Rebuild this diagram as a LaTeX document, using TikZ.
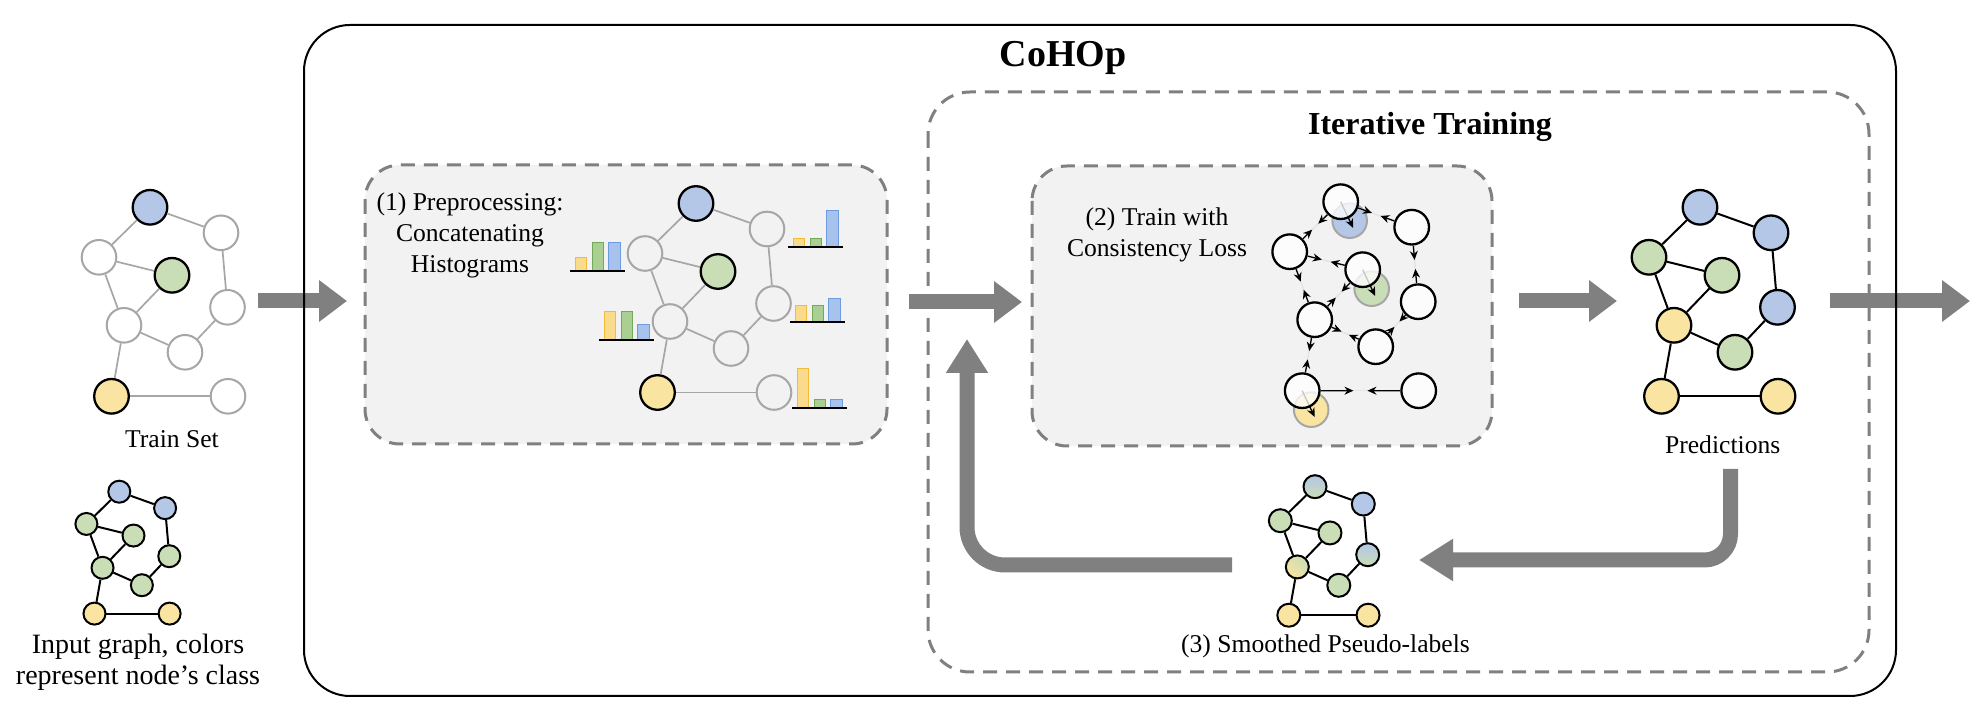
\documentclass[tikz,border=0pt]{standalone}
\usepackage{fontspec}
\setmainfont{Liberation Serif}
\usetikzlibrary{arrows.meta,calc}
\pgfdeclarelayer{back}
\pgfdeclarelayer{mid}
\pgfsetlayers{back,mid,main}

\definecolor{nblue}{HTML}{B4C7E7}
\definecolor{ngreen}{HTML}{C9DDB6}
\definecolor{nyellow}{HTML}{F9E4A1}
\definecolor{edgegray}{HTML}{A6A6A6}
\definecolor{arrowgray}{HTML}{808080}
\definecolor{boxfill}{HTML}{F2F2F2}
\definecolor{barYfill}{HTML}{FADB8C}
\definecolor{barYline}{HTML}{F2BB3C}
\definecolor{barGfill}{HTML}{AACF93}
\definecolor{barGline}{HTML}{73A957}
\definecolor{barBfill}{HTML}{A7C2EC}
\definecolor{barBline}{HTML}{6C9BE0}

\def\gx{{0,71,-51,22,77.5,-26,35,-38.5,78}}
\def\gy{{0,25.5,50,68,100,118,145,189,189}}

\newcommand{\drawgraph}[5]{%
  \begin{scope}[shift={#2},scale=#3]
  \foreach \s [count=\k from 0] in {#5} {
    \pgfmathsetmacro{\px}{\gx[\k]}
    \pgfmathsetmacro{\py}{\gy[\k]}
    \node[gnode,#4,\s] (#1\k) at (\px,\py) {};
  }
  \end{scope}}

\newcommand{\graphedges}[2]{%
  \foreach \u/\v in {0/1,0/2,2/3,2/5,3/5,1/4,4/6,5/6,5/7,7/8}
    \draw[#2] (#1\u) -- (#1\v);}

\newcommand{\hist}[5]{%
  \draw[barY] (#1+5,#2) rectangle ++(11.5,-#3);
  \draw[barG] (#1+22,#2) rectangle ++(11.5,-#4);
  \draw[barB] (#1+38.5,#2) rectangle ++(11.5,-#5);
  \draw[histline] (#1,#2) -- ++(55,0);}

\begin{document}
\begin{tikzpicture}[
x=0.5pt, y=-0.5pt,
txt/.style={font=\fontsize{12.8}{15.5}\selectfont},
gnode/.style={circle,draw=black,line width=1.15pt,inner sep=0pt,minimum size=17.3pt},
nw/.style={draw=edgegray,line width=1pt},
nb/.style={fill=nblue},
ng/.style={fill=ngreen},
ny/.style={fill=nyellow},
nt/.style={fill=white,fill opacity=0.78},
nbg/.style={top color=nblue,bottom color=ngreen},
nyg/.style={top color=ngreen,bottom color=nyellow,shading angle=-45},
shadownode/.style={circle,draw=gray!70,line width=1pt,inner sep=0pt,minimum size=17.3pt},
grayedge/.style={draw=edgegray,line width=0.85pt},
blackedge/.style={line width=1pt},
faintedge/.style={draw=gray!20,line width=0.8pt},
tarrow/.style={-{Stealth[length=4.5pt,width=4pt]},line width=0.65pt},
bigarrow/.style={draw=arrowgray,line width=7.5pt,-{Triangle[length=14pt,width=20pt]}},
looparrow/.style={bigarrow,-{Triangle[length=17pt,width=20pt]}},
dashbox/.style={draw=arrowgray,line width=1.5pt,dash pattern=on 7pt off 4.5pt},
barY/.style={fill=barYfill,draw=barYline,line width=0.5pt},
barG/.style={fill=barGfill,draw=barGline,line width=0.5pt},
barB/.style={fill=barBfill,draw=barBline,line width=0.5pt},
histline/.style={line width=1pt},
]
\useasboundingbox (0,0) rectangle (1978,721);

\coordinate (tsout) at (258,301);
\coordinate (ppin) at (347,301);
\coordinate (ppout) at (909,302);
\coordinate (trin) at (1022,302);
\coordinate (trout) at (1519,301);
\coordinate (prin) at (1617,301);
\coordinate (prout) at (1830,301);
\coordinate (result) at (1970,301);
\coordinate (prdown) at (1730.5,469);
\coordinate (smin) at (1419,560);
\coordinate (smout) at (1232,565);
\coordinate (trup) at (967,339);

\begin{pgfonlayer}{back}
\draw[bigarrow] (tsout) -- (ppin);
\draw[bigarrow] (ppout) -- (trin);
\draw[bigarrow] (trout) -- (prin);
\draw[bigarrow] (prout) -- (result);
\draw[looparrow,rounded corners=13pt] (prdown) |- (smin);
\draw[looparrow,rounded corners=19pt] (smout) -| (trup);

\draw[line width=1pt,rounded corners=23pt] (304,25) rectangle (1896,696);
\draw[dashbox,rounded corners=21pt] (928,92) rectangle (1869,672);
\draw[dashbox,fill=boxfill,rounded corners=17.5pt] (365,165) rectangle (887,444);
\draw[dashbox,fill=boxfill,rounded corners=17.5pt] (1032,166) rectangle (1492,446);
\end{pgfonlayer}

\node[font=\fontsize{19}{23}\selectfont\bfseries,anchor=base] (cohop) at (1063,66.7) {CoHOp};
\node[font=\fontsize{16}{19}\selectfont\bfseries,anchor=base] (iterative) at (1430,135) {Iterative Training};
\node[txt,align=center,anchor=base] (pptext) at (470,273) {(1) Preprocessing:\\Concatenating\\Histograms};
\node[txt,align=center,anchor=base] (trtext) at (1157,257) {(2) Train with\\Consistency Loss};
\node[txt,anchor=base] (tslabel) at (172,448) {Train Set};
\node[txt,anchor=base] (prlabel) at (1722.7,453.5) {Predictions};
\node[txt,anchor=base] (smlabel) at (1325.5,652.7) {(3) Smoothed Pseudo-labels};
\node[font=\fontsize{14}{16}\selectfont,align=center,anchor=base] (inlabel) at (138,685) {Input graph, colors\\represent node’s class};

\drawgraph{ts}{(150,207.3)}{1}{}{nb,nw,nw,ng,nw,nw,nw,ny,nw}
\graphedges{ts}{grayedge}
\drawgraph{pp}{(696,203.5)}{1}{}{nb,nw,nw,ng,nw,nw,nw,ny,nw}
\graphedges{pp}{grayedge}
\drawgraph{pr}{(1700,207.3)}{1}{}{nb,nb,ng,ng,nb,ny,ng,ny,ny}
\graphedges{pr}{blackedge}
\drawgraph{sm}{(1315,486.7)}{0.68}{minimum size=11.5pt,line width=1pt}{nbg,nb,ng,ng,nbg,nyg,ng,ny,ny}
\graphedges{sm}{blackedge}
\drawgraph{in}{(119.3,491.7)}{0.645}{minimum size=11pt,line width=1pt}{nb,nb,ng,ng,ng,ng,ng,ny,ny}
\graphedges{in}{blackedge}

\hist{570}{271}{13.3}{28}{28}
\hist{788}{247.3}{8.3}{8.3}{36.6}
\hist{599.3}{340}{28.3}{28.3}{15}
\hist{790.4}{322.3}{16.6}{16.6}{24}
\hist{792}{408.3}{40}{8.3}{8.3}

\drawgraph{tr}{(1340.7,201.7)}{1}{}{nt,nt,nt,nt,nt,nt,nt,nt,nt}
\begin{pgfonlayer}{mid}
\foreach \k/\c in {0/nblue,3/ngreen,7/nyellow} {
  \node[shadownode,fill=\c] (trs\k) at ($(tr\k)+(9,19)$) {};
  \draw[tarrow,shorten >=-4pt] (tr\k.center) -- (trs\k.center);
}
\end{pgfonlayer}
\foreach \u/\v in {0/1,0/2,2/3,2/5,3/5,1/4,4/6,5/6,5/7,7/8} {
  \draw[faintedge] (tr\u) -- (tr\v);
  \draw[tarrow] (tr\u) -- ($(tr\u)!0.44!(tr\v)$);
  \draw[tarrow] (tr\v) -- ($(tr\v)!0.44!(tr\u)$);
}

\end{tikzpicture}
\end{document}
